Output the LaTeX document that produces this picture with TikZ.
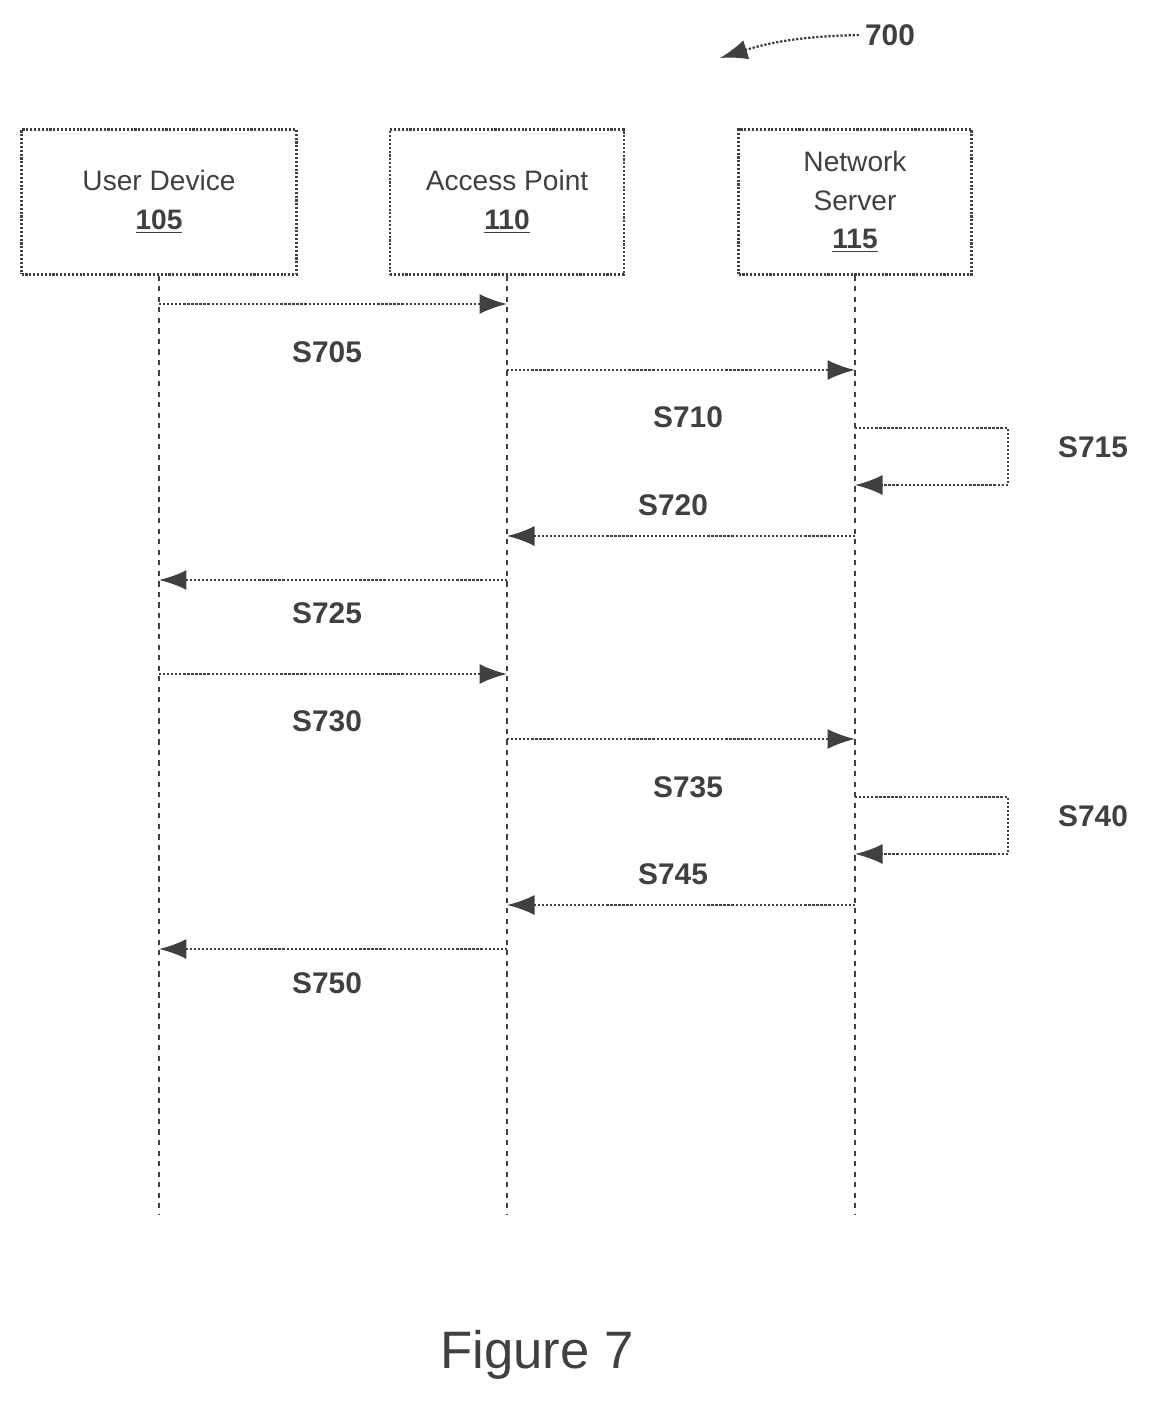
\documentclass[tikz,border=0pt]{standalone}
\usepackage{fontspec}
\setmainfont{Liberation Sans}
\usetikzlibrary{arrows.meta,positioning}
\colorlet{ink}{black!75}
\tikzset{
  ent/.style={draw=ink, densely dotted, line width=1.2pt, minimum width=5.5cm, minimum height=2.9cm, align=center, font=\fontsize{16}{22}\selectfont, text=ink},
  life/.style={draw=ink, dashed, line width=0.9pt},
  msg/.style={draw=ink, densely dotted, line width=1.3pt, -{Latex[length=0.55cm,width=0.4cm]}},
  lbl/.style={font=\bfseries\fontsize{17}{20}\selectfont, text=ink}
}
\begin{document}
\begin{tikzpicture}[x=0.02cm,y=-0.02cm]
  \useasboundingbox (0,0) rectangle (1156,1402);
  \node[ent, minimum width=5.5cm] (ud) at (159,202) {User Device\\\underline{\textbf{105}}};
  \node[ent, minimum width=4.68cm] (ap) at (507,202) {Access Point\\\underline{\textbf{110}}};
  \node[ent, minimum width=4.66cm] (ns) at (855,202) {Network\\Server\\\underline{\textbf{115}}};
  \coordinate (udE) at (159,1215);
  \coordinate (apE) at (507,1215);
  \coordinate (nsE) at (855,1215);
  \draw[life] (ud.south) -- (udE);
  \draw[life] (ap.south) -- (apE);
  \draw[life] (ns.south) -- (nsE);
  % messages
  \foreach \y/\a/\b in {304/159/507, 370/507/855, 536/855/507, 580/507/159,
                        674/159/507, 739/507/855, 905/855/507, 949/507/159} {
    \coordinate (s) at (\a,\y);
    \coordinate (t) at (\b,\y);
    \draw[msg] (s) -- (t);
  }
  \foreach \y in {428, 797} {
    \coordinate (p) at (855,\y);
    \coordinate (q) at (855,\y+57);
    \draw[msg] (p) -| (1008,\y+57) -- (q);
  }
  \node[lbl] at (327,352) {S705};
  \node[lbl] at (688,417) {S710};
  \node[lbl] at (1093,447) {S715};
  \node[lbl] at (673,505) {S720};
  \node[lbl] at (327,613) {S725};
  \node[lbl] at (327,721) {S730};
  \node[lbl] at (688,787) {S735};
  \node[lbl] at (1093,816) {S740};
  \node[lbl] at (673,874) {S745};
  \node[lbl] at (327,983) {S750};
  \node[lbl] (fig) at (890,35) {700};
  \coordinate (tip) at (720,58);
  \draw[msg] (fig.west) to[bend right=8] (tip);
  \node[font=\fontsize{30}{34}\selectfont, text=ink] at (537,1355) {Figure 7};
\end{tikzpicture}
\end{document}
